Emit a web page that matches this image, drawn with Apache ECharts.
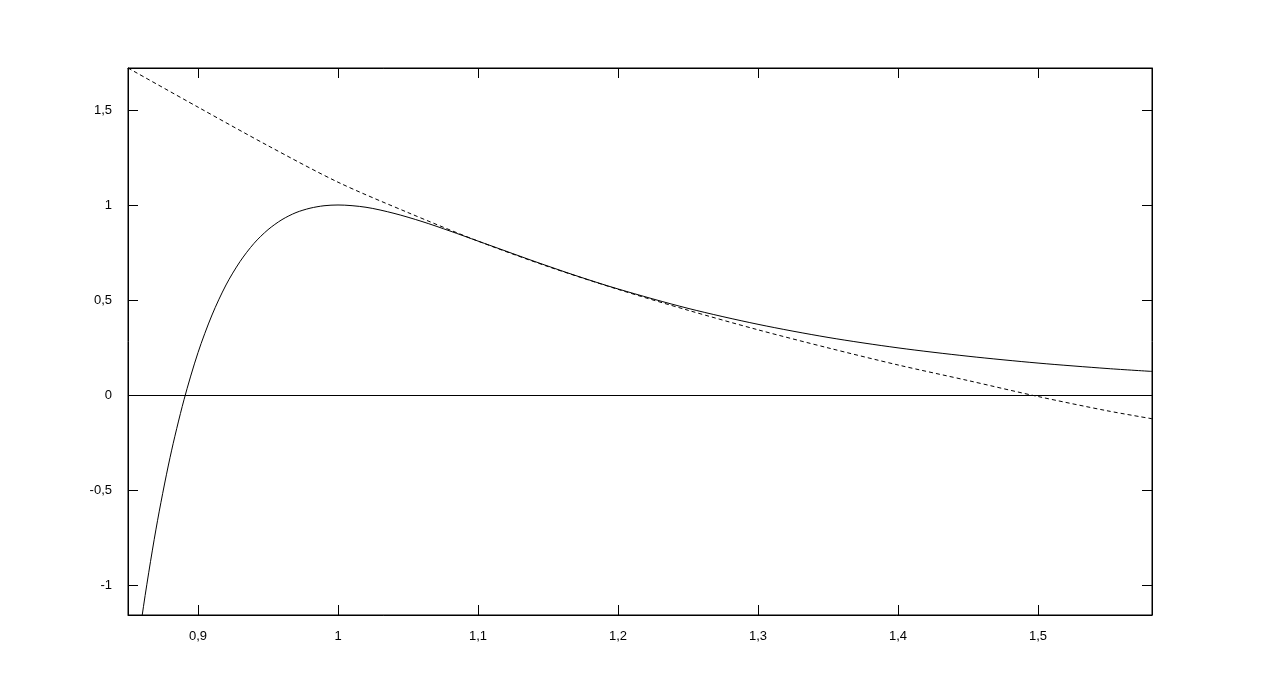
<!DOCTYPE html>
<html>
<head>
<meta charset="utf-8">
<script src="https://cdn.jsdelivr.net/npm/echarts@6/dist/echarts.min.js"></script>
<style>
  html, body { margin: 0; padding: 0; background: #fff; }
  #chart { width: 1280px; height: 684px; }
</style>
</head>
<body>
<div id="chart"></div>
<script>
// solid curve (potential)
var solidX = [0.85, 0.86, 0.87, 0.88, 0.89, 0.90, 0.91, 0.92, 0.93, 0.94, 0.95, 0.96, 0.97, 0.98, 0.99, 1.00,
  1.02, 1.04, 1.06, 1.08, 1.10, 1.12, 1.14, 1.17, 1.20, 1.25, 1.30, 1.35, 1.40, 1.45, 1.50, 1.55, 1.5814];
var solidY = [-1.727, -1.166, -0.706, -0.330, -0.025, 0.223, 0.421, 0.579, 0.702, 0.798, 0.870, 0.923, 0.960, 0.983, 0.996, 1.000,
  0.988, 0.956, 0.913, 0.863, 0.810, 0.757, 0.704, 0.628, 0.558, 0.456, 0.372, 0.303, 0.248, 0.204, 0.168, 0.139, 0.124];

// dashed curve (approximation)
var dashX = [0.85, 0.90, 0.95, 1.00, 1.05, 1.10, 1.15, 1.20, 1.25, 1.30, 1.35, 1.40, 1.45, 1.50, 1.55, 1.5814];
var dashY = [1.721, 1.515, 1.312, 1.120, 0.960, 0.810, 0.676, 0.556, 0.446, 0.343, 0.248, 0.158, 0.076, -0.008, -0.084, -0.125];

var xTicks = [0.9, 1.0, 1.1, 1.2, 1.3, 1.4, 1.5];
var yTicks = [-1, -0.5, 0, 0.5, 1, 1.5];

var xMin = 0.85, xMax = 1.5814;
var yMin = -1.158, yMax = 1.721;

function pairs(xs, ys) {
  return xs.map(function (x, i) { return [x, ys[i]]; });
}
function comma(v) {
  return String(Math.round(v * 100) / 100).replace('.', ',');
}

var chart = echarts.init(document.getElementById('chart'));

var labelStyle = { color: '#000', fontFamily: 'Liberation Sans, Arial, sans-serif', fontSize: 13 };
var tickStyle = { show: true, inside: true, length: 10, lineStyle: { color: '#000', width: 1 } };
var lineStyle = { show: true, onZero: false, lineStyle: { color: '#000', width: 1 } };

chart.setOption({
  animation: false,
  backgroundColor: '#fff',
  grid: { left: 128, right: 128, top: 68, bottom: 69, show: true, borderColor: '#000', borderWidth: 1 },
  xAxis: [{
    type: 'value', min: xMin, max: xMax, position: 'bottom',
    axisLine: lineStyle,
    axisTick: Object.assign({ customValues: xTicks }, tickStyle),
    axisLabel: Object.assign({ customValues: xTicks, margin: 15, formatter: comma }, labelStyle),
    splitLine: { show: false }
  }, {
    type: 'value', min: xMin, max: xMax, position: 'top',
    axisLine: lineStyle,
    axisTick: Object.assign({ customValues: xTicks }, tickStyle),
    axisLabel: { show: false },
    splitLine: { show: false }
  }],
  yAxis: [{
    type: 'value', min: yMin, max: yMax, position: 'left',
    axisLine: lineStyle,
    axisTick: Object.assign({ customValues: yTicks }, tickStyle),
    axisLabel: Object.assign({ customValues: yTicks, margin: 16, formatter: comma }, labelStyle),
    splitLine: { show: false }
  }, {
    type: 'value', min: yMin, max: yMax, position: 'right',
    axisLine: lineStyle,
    axisTick: Object.assign({ customValues: yTicks }, tickStyle),
    axisLabel: { show: false },
    splitLine: { show: false }
  }],
  series: [{
    type: 'line',
    data: pairs(solidX, solidY),
    smooth: 0.3,
    showSymbol: false,
    clip: true,
    lineStyle: { color: '#000', width: 1 },
    markLine: {
      silent: true,
      symbol: 'none',
      label: { show: false },
      lineStyle: { color: '#000', width: 1, type: 'solid' },
      data: [{ yAxis: 0 }]
    }
  }, {
    type: 'line',
    data: pairs(dashX, dashY),
    smooth: 0.3,
    showSymbol: false,
    clip: true,
    lineStyle: { color: '#000', width: 1, type: [4, 3] }
  }]
});
</script>
</body>
</html>
